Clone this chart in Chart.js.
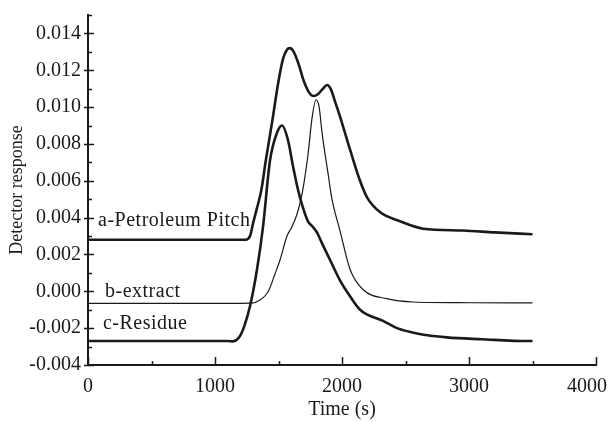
<!DOCTYPE html>
<html><head><meta charset="utf-8">
<script src="https://cdn.jsdelivr.net/npm/chart.js@4.4.1/dist/chart.umd.min.js"></script>
<style>html,body{margin:0;padding:0;background:#fff}#wrap{width:608px;height:422px}</style>
</head><body><div id="wrap"><canvas id="c" width="608" height="422"></canvas></div>
<script>
// ---- data ----
const timePitch = [0, 300, 600, 900, 1150, 1240, 1276, 1300, 1330, 1365, 1400, 1450, 1500, 1535, 1565, 1590, 1620, 1660, 1700, 1740, 1775, 1810, 1850, 1882, 1910, 1950, 1984, 2063, 2142, 2197, 2299, 2457, 2638, 2953, 3200, 3500];
const valPitch  = [0.0028, 0.0028, 0.0028, 0.0028, 0.0028, 0.0028, 0.0030, 0.0037, 0.0045, 0.0055, 0.0071, 0.0092, 0.0114, 0.0126, 0.0131, 0.0132, 0.0130, 0.0123, 0.0114, 0.0108, 0.0106, 0.0107, 0.0110, 0.0112, 0.0110, 0.0102, 0.0095, 0.0077, 0.0060, 0.0051, 0.0043, 0.0038, 0.0034, 0.0033, 0.0032, 0.0031];

const timeExtract = [0, 600, 1200, 1300, 1354, 1400, 1433, 1470, 1512, 1567, 1606, 1646, 1677, 1701, 1732, 1764, 1795, 1820, 1843, 1890, 1921, 1984, 2063, 2165, 2354, 2559, 3000, 3500];
const valExtract  = [-0.00065, -0.00065, -0.00065, -0.00063, -0.00047, -0.00020, 0.0002, 0.0009, 0.0017, 0.0030, 0.0035, 0.0042, 0.0050, 0.0059, 0.0074, 0.0094, 0.0104, 0.0100, 0.0086, 0.0064, 0.0050, 0.0033, 0.0012, 0.0001, -0.0004, -0.00058, -0.00062, -0.00063];

const timeResidue = [0, 300, 600, 900, 1100, 1142, 1190, 1230, 1276, 1331, 1378, 1433, 1488, 1528, 1575, 1614, 1654, 1690, 1732, 1770, 1803, 1843, 1906, 1984, 2047, 2142, 2323, 2433, 2600, 2827, 3100, 3465, 3500];
const valResidue  = [-0.0027, -0.0027, -0.0027, -0.0027, -0.0027, -0.00272, -0.0025, -0.0019, -0.0008, 0.0012, 0.0035, 0.0071, 0.0086, 0.0090, 0.0082, 0.0068, 0.0055, 0.0046, 0.0038, 0.0035, 0.0032, 0.0026, 0.0017, 0.0006, -0.0001, -0.0010, -0.0016, -0.0020, -0.0023, -0.0025, -0.0026, -0.0027, -0.0027];

const seriesNames = ['a-Petroleum Pitch', 'b-extract', 'c-Residue'];
const xTickValues = [0, 1000, 2000, 3000, 4000];
const yTickValues = [-0.004, -0.002, 0.000, 0.002, 0.004, 0.006, 0.008, 0.010, 0.012, 0.014];

// ---- chart ----
const toPts = (t, v) => t.map((x, i) => ({x: x, y: v[i]}));
const FONT = 'Liberation Serif';
const INK = '#1a1a1a';
const xLast = xTickValues[xTickValues.length - 1];

const axisDecor = {
  id: 'axisDecor',
  afterDraw(chart) {
    const ctx = chart.ctx, xs = chart.scales.x, ys = chart.scales.y;
    ctx.save();
    ctx.strokeStyle = INK;
    ctx.lineWidth = 1.5;
    ctx.beginPath();
    for (let v = 0; v <= 4000; v += 500) {
      const px = Math.round(xs.getPixelForValue(v)) + 0.5;
      const len = (v % 1000 === 0) ? 8 : 4;
      ctx.moveTo(px, ys.bottom);
      ctx.lineTo(px, ys.bottom - len);
    }
    for (let k = -4; k <= 15; k++) {
      const py = Math.round(ys.getPixelForValue(k / 1000)) + 0.5;
      const major = (k % 2 === 0) && k <= 14;
      ctx.moveTo(xs.left - (major ? 4 : 0), py);
      ctx.lineTo(xs.left + (major ? 6 : 4), py);
    }
    ctx.stroke();
    // last x tick label, kept inside the canvas as in the reference
    ctx.fillStyle = INK;
    ctx.font = '20px "' + FONT + '"';
    ctx.textAlign = 'right';
    ctx.textBaseline = 'middle';
    ctx.fillText(String(xLast), chart.width - 1, ys.bottom + 22);
    ctx.restore();
  }
};

const seriesText = {
  id: 'seriesText',
  afterDatasetsDraw(chart, args, opts) {
    const ctx = chart.ctx, xs = chart.scales.x, ys = chart.scales.y;
    ctx.save();
    ctx.fillStyle = INK;
    ctx.font = '20px "' + FONT + '"';
    try { ctx.letterSpacing = '0.5px'; } catch (e) {}
    ctx.textAlign = 'left';
    ctx.textBaseline = 'alphabetic';
    opts.anchors.forEach((a, i) => {
      ctx.fillText(seriesNames[i], xs.getPixelForValue(a[0]), ys.getPixelForValue(a[1]));
    });
    ctx.restore();
  }
};

new Chart(document.getElementById('c'), {
  type: 'line',
  data: {
    datasets: [
      {label: seriesNames[0], data: toPts(timePitch, valPitch), borderColor: INK, borderWidth: 2.6},
      {label: seriesNames[1], data: toPts(timeExtract, valExtract), borderColor: INK, borderWidth: 1.2},
      {label: seriesNames[2], data: toPts(timeResidue, valResidue), borderColor: INK, borderWidth: 2.6}
    ]
  },
  options: {
    responsive: false,
    animation: false,
    devicePixelRatio: 1,
    parsing: false,
    elements: {point: {radius: 0}, line: {cubicInterpolationMode: 'monotone', fill: false}},
    layout: {padding: {left: 0, right: 12, top: 15, bottom: 0}},
    plugins: {
      legend: {display: false},
      tooltip: {enabled: false},
      seriesText: {anchors: [[79, 0.00355], [134, -0.00031], [118, -0.00205]]}
    },
    scales: {
      x: {
        type: 'linear', min: 0, max: 4000,
        afterBuildTicks: s => { s.ticks = xTickValues.map(v => ({value: v})); },
        afterFit: s => { s.height = 57; s.paddingLeft = 0; s.paddingRight = 0; },
        grid: {display: false, drawTicks: false},
        border: {display: true, color: INK, width: 2},
        ticks: {color: INK, font: {family: FONT, size: 20}, padding: 10, maxRotation: 0, autoSkip: false,
                callback: v => (v === xLast ? '' : String(v))},
        title: {display: true, text: 'Time (s)', color: INK, font: {family: FONT, size: 20}, padding: {top: 0, bottom: 0}}
      },
      y: {
        type: 'linear', min: -0.004, max: 0.015,
        afterBuildTicks: s => { s.ticks = yTickValues.map(v => ({value: v})); },
        afterFit: s => { s.width = 88; s.paddingTop = 0; s.paddingBottom = 0; },
        grid: {display: false, drawTicks: false},
        border: {display: true, color: INK, width: 2},
        ticks: {color: INK, font: {family: FONT, size: 20}, padding: 7, autoSkip: false,
                callback: v => v.toFixed(3)},
        title: {display: true, text: 'Detector response', color: INK, font: {family: FONT, size: 18}, padding: {top: 6, bottom: 0}}
      }
    }
  },
  plugins: [axisDecor, seriesText]
});
</script>
</body></html>
